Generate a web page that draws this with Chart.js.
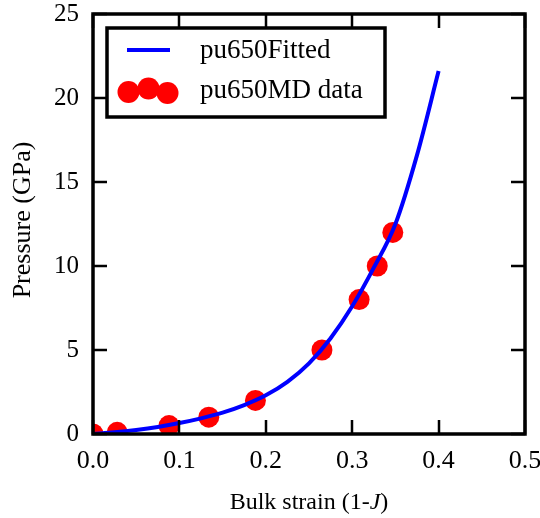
<!DOCTYPE html>
<html>
<head>
<meta charset="utf-8">
<script src="https://cdn.jsdelivr.net/npm/chart.js@4/dist/chart.umd.min.js"></script>
<style>
    body { margin: 0; background: #fff; }
    canvas { display: block; }
</style>
</head>
<body>
<canvas id="eos-chart" width="540" height="518"></canvas>
<script>
// axis ticks
const strainTicks = [0, 0.1, 0.2, 0.3, 0.4, 0.5];
const pressureTicks = [0, 5, 10, 15, 20, 25];

// MD simulation points
const mdStrain = [0, 0.028, 0.088, 0.134, 0.188, 0.265, 0.308, 0.329, 0.347];
const mdPressure = [0, 0.1, 0.5, 1, 2, 5, 8, 10, 12];

// fitted curve samples
const fitStrain = [0, 0.025, 0.05, 0.075, 0.1, 0.125, 0.15, 0.175, 0.2, 0.225, 0.25, 0.275, 0.3, 0.325, 0.35, 0.375, 0.4];
const fitPressure = [0, 0.1, 0.24, 0.42, 0.65, 0.93, 1.27, 1.72, 2.3, 3.1, 4.2, 5.7, 7.6, 9.9, 12.5, 16.6, 21.6];

const FONT = "'Liberation Serif', 'DejaVu Serif', serif";

const toPoints = (xs, ys) => xs.map((x, i) => ({ x: x, y: ys[i] }));

// frame, inward ticks on all four sides, axis titles and legend
const decorPlugin = {
    id: "decor",
    afterDatasetsDraw(chart) {
        const ctx = chart.ctx;
        const a = chart.chartArea;
        const xs = chart.scales.x;
        const ys = chart.scales.y;
        ctx.save();
        ctx.strokeStyle = "#000";
        ctx.lineWidth = 2.5;
        const tl = 14;
        ctx.beginPath();
        strainTicks.forEach(v => {
            const px = Math.round(xs.getPixelForValue(v));
            ctx.moveTo(px, a.bottom);
            ctx.lineTo(px, a.bottom - tl);
            ctx.moveTo(px, a.top);
            ctx.lineTo(px, a.top + tl);
        });
        pressureTicks.forEach(v => {
            const py = Math.round(ys.getPixelForValue(v));
            ctx.moveTo(a.left, py);
            ctx.lineTo(a.left + tl, py);
            ctx.moveTo(a.right, py);
            ctx.lineTo(a.right - tl, py);
        });
        ctx.stroke();
        ctx.lineWidth = 3.5;
        ctx.strokeRect(a.left, a.top, a.right - a.left, a.bottom - a.top);
        ctx.restore();
    },
    afterDraw(chart) {
        const ctx = chart.ctx;
        const a = chart.chartArea;
        ctx.save();
        ctx.fillStyle = "#000";

        // y axis title
        ctx.font = "26px " + FONT;
        ctx.textAlign = "center";
        ctx.textBaseline = "middle";
        ctx.save();
        ctx.translate(23, 220);
        ctx.rotate(-Math.PI / 2);
        ctx.fillText("Pressure (GPa)", 0, 0);
        ctx.restore();

        // x axis title with italic J
        const parts = [
            { t: "Bulk strain (1-", f: "24px " + FONT },
            { t: "J", f: "italic 24px " + FONT },
            { t: ")", f: "24px " + FONT }
        ];
        let total = 0;
        parts.forEach(p => { ctx.font = p.f; p.w = ctx.measureText(p.t).width; total += p.w; });
        let x = (a.left + a.right) / 2 - total / 2;
        ctx.textAlign = "left";
        parts.forEach(p => { ctx.font = p.f; ctx.fillText(p.t, x, 503); x += p.w; });

        // legend
        const fit = chart.data.datasets[0];
        const md = chart.data.datasets[1];
        ctx.fillStyle = "#fff";
        ctx.fillRect(107, 28, 278, 89);
        ctx.strokeStyle = "#000";
        ctx.lineWidth = 3.5;
        ctx.strokeRect(107, 28, 278, 89);

        ctx.strokeStyle = fit.borderColor;
        ctx.lineWidth = 4;
        ctx.beginPath();
        ctx.moveTo(127, 50);
        ctx.lineTo(170, 50);
        ctx.stroke();

        ctx.fillStyle = md.backgroundColor;
        [[128.5, 92], [148.5, 88.5], [167.5, 93]].forEach(([cx, cy]) => {
            ctx.beginPath();
            ctx.arc(cx, cy, 11, 0, Math.PI * 2);
            ctx.fill();
        });

        ctx.fillStyle = "#000";
        ctx.font = "27px " + FONT;
        ctx.textBaseline = "middle";
        ctx.fillText(fit.label, 200, 51);
        ctx.fillText(md.label, 200, 91);
        ctx.restore();
    }
};

const ctx = document.getElementById("eos-chart").getContext("2d");
new Chart(ctx, {
    type: "scatter",
    data: {
        datasets: [
            {
                type: "line",
                label: "pu650Fitted",
                data: toPoints(fitStrain, fitPressure),
                borderColor: "#0000ff",
                borderWidth: 4,
                pointRadius: 0,
                fill: false,
                cubicInterpolationMode: "monotone",
                clip: 0
            },
            {
                label: "pu650MD data",
                data: toPoints(mdStrain, mdPressure),
                backgroundColor: "#ff0000",
                borderWidth: 0,
                pointRadius: 10.5,
                clip: 0
            }
        ]
    },
    options: {
        responsive: false,
        animation: false,
        events: [],
        layout: { padding: { top: 14, right: 15, left: 0, bottom: 0 } },
        plugins: {
            legend: { display: false },
            tooltip: { enabled: false }
        },
        scales: {
            x: {
                type: "linear",
                min: 0,
                max: 0.5,
                afterBuildTicks: s => { s.ticks = strainTicks.map(v => ({ value: v })); },
                afterFit: s => { s.height = 84; s.paddingLeft = 0; s.paddingRight = 0; },
                grid: { display: false, drawTicks: false },
                border: { display: false },
                ticks: {
                    color: "#000",
                    font: { family: FONT, size: 26 },
                    padding: 12,
                    autoSkip: false,
                    maxRotation: 0,
                    callback: v => v.toFixed(1)
                }
            },
            y: {
                type: "linear",
                min: 0,
                max: 25,
                afterBuildTicks: s => { s.ticks = pressureTicks.map(v => ({ value: v })); },
                afterFit: s => { s.width = 93; s.paddingTop = 0; s.paddingBottom = 0; },
                grid: { display: false, drawTicks: false },
                border: { display: false },
                ticks: {
                    color: "#000",
                    font: { family: FONT, size: 25 },
                    padding: 14,
                    autoSkip: false,
                    callback: v => String(v)
                }
            }
        }
    },
    plugins: [decorPlugin]
});
</script>
</body>
</html>
